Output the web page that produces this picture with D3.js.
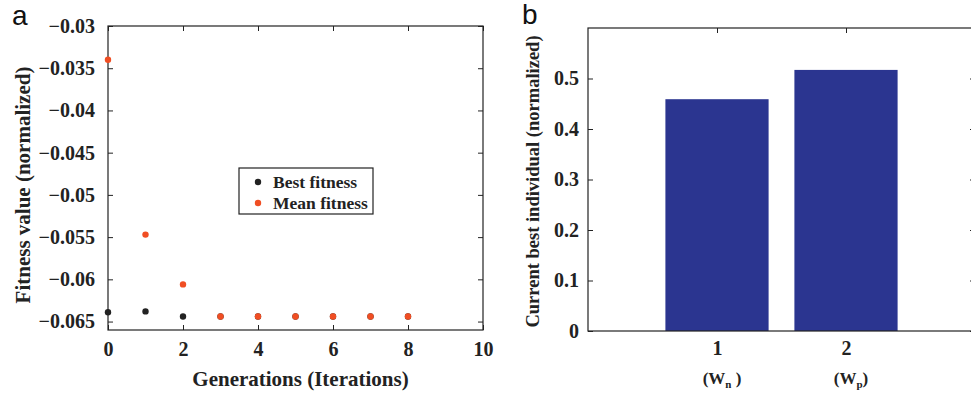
<!DOCTYPE html>
<html>
<head>
<meta charset="utf-8">
<script src="https://cdn.jsdelivr.net/npm/d3@7"></script>
<style>
  html, body { margin: 0; padding: 0; background: #fff; }
  svg { display: block; }
  text { font-family: "Liberation Serif", "Times New Roman", serif; font-weight: bold; fill: #222; }
  .panel { font-family: "Liberation Sans", Arial, sans-serif; font-weight: normal; fill: #111; }
</style>
</head>
<body>
<svg id="chart" width="971" height="397"></svg>
<script>
// Panel a: GA convergence per generation
const generations = [0, 1, 2, 3, 4, 5, 6, 7, 8];
const bestFitness = [-0.0639, -0.0638, -0.0644, -0.0644, -0.0644, -0.0644, -0.0644, -0.0644, -0.0644];
const meanFitness = [-0.0340, -0.0547, -0.0606, -0.0644, -0.0644, -0.0644, -0.0644, -0.0644, -0.0644];
const xTicksA = [0, 2, 4, 6, 8, 10];
const yTicksA = [-0.03, -0.035, -0.04, -0.045, -0.05, -0.055, -0.06, -0.065];

// Panel b: current best individual
const paramIndex = [1, 2];
const paramValues = [0.459, 0.517];
const paramNames = [["n", true], ["p", false]];
const yTicksB = [0, 0.1, 0.2, 0.3, 0.4, 0.5];

const svg = d3.select("#chart");
const axisColor = "#222";
const bestColor = "#222222";
const meanColor = "#f04e23";
const barColor = "#2b3590";

function fmtMinus(v) { return d3.format("")(v).replace("-", "\u2212"); }

// ---------- Panel a ----------
const ax = { left: 108, right: 483, top: 26, bottom: 330 };
const xA = d3.scaleLinear().domain([0, 10]).range([ax.left, ax.right]);
const yA = d3.scaleLinear().domain([-0.066, -0.03]).range([ax.bottom, ax.top]);
const gA = svg.append("g");

gA.append("rect").attr("x", ax.left).attr("y", ax.top)
  .attr("width", ax.right - ax.left).attr("height", ax.bottom - ax.top)
  .attr("fill", "none").attr("stroke", axisColor).attr("stroke-width", 1.2);

const tickStyle = g => {
  g.attr("font-family", null).attr("font-size", null);
  g.select(".domain").remove();
  g.selectAll(".tick line").attr("stroke", axisColor).attr("stroke-width", 1);
  g.selectAll(".tick text").attr("fill", "#222").style("font-size", "20px")
    .style("font-family", "'Liberation Serif', serif").style("font-weight", "bold");
};

gA.append("g").attr("transform", `translate(0,${ax.bottom})`)
  .call(d3.axisBottom(xA).tickValues(xTicksA).tickSize(-5).tickPadding(12).tickFormat(d3.format("d")))
  .call(tickStyle);
gA.append("g").attr("transform", `translate(0,${ax.top})`)
  .call(d3.axisTop(xA).tickValues(xTicksA).tickSize(-5).tickFormat(""))
  .call(tickStyle);
gA.append("g").attr("transform", `translate(${ax.left},0)`)
  .call(d3.axisLeft(yA).tickValues(yTicksA).tickSize(-5).tickPadding(13).tickFormat(fmtMinus))
  .call(tickStyle);
gA.append("g").attr("transform", `translate(${ax.right},0)`)
  .call(d3.axisRight(yA).tickValues(yTicksA).tickSize(-5).tickFormat(""))
  .call(tickStyle);

gA.append("g").selectAll("circle").data(generations).join("circle")
  .attr("cx", (d, i) => xA(generations[i])).attr("cy", (d, i) => yA(bestFitness[i]))
  .attr("r", 3.2).attr("fill", bestColor);
gA.append("g").selectAll("circle").data(generations).join("circle")
  .attr("cx", (d, i) => xA(generations[i])).attr("cy", (d, i) => yA(meanFitness[i]))
  .attr("r", 3.2).attr("fill", meanColor);

// legend
const leg = gA.append("g").attr("transform", "translate(239,168)");
leg.append("rect").attr("width", 134).attr("height", 46)
  .attr("fill", "#fff").attr("stroke", axisColor).attr("stroke-width", 1.2);
[["Best fitness", bestColor], ["Mean fitness", meanColor]].forEach(([label, c], i) => {
  leg.append("circle").attr("cx", 19).attr("cy", 14 + i * 21).attr("r", 3.2).attr("fill", c);
  leg.append("text").attr("x", 34).attr("y", 14 + i * 21).attr("dy", "0.35em")
    .style("font-size", "17.5px").text(label);
});

gA.append("text").attr("x", (ax.left + ax.right) / 2 + 5).attr("y", 386)
  .attr("text-anchor", "middle").style("font-size", "21px").text("Generations (Iterations)");
gA.append("text").attr("transform", `translate(30,${(ax.top + ax.bottom) / 2 + 7}) rotate(-90)`)
  .attr("text-anchor", "middle").style("font-size", "21px").text("Fitness value (normalized)");
svg.append("text").attr("class", "panel").attr("x", 12).attr("y", 25)
  .style("font-size", "28px").text("a");

// ---------- Panel b ----------
const bx = { left: 588, top: 28, bottom: 331 };
const xB = d3.scaleLinear().domain([0, 3]).range([bx.left, bx.left + 387]);
const yB = d3.scaleLinear().domain([0, 0.6]).range([bx.bottom, bx.top]);
const gB = svg.append("g");
const barW = xB(0.8) - xB(0);

gB.append("g").selectAll("rect").data(paramIndex).join("rect")
  .attr("x", (d, i) => xB(paramIndex[i]) - barW / 2)
  .attr("y", (d, i) => yB(paramValues[i]))
  .attr("width", barW)
  .attr("height", (d, i) => yB(0) - yB(paramValues[i]))
  .attr("fill", barColor);

gB.append("rect").attr("x", xB(0)).attr("y", yB(0.6))
  .attr("width", xB(3) - xB(0)).attr("height", yB(0) - yB(0.6))
  .attr("fill", "none").attr("stroke", axisColor).attr("stroke-width", 1.2);

gB.append("g").attr("transform", `translate(0,${bx.bottom})`)
  .call(d3.axisBottom(xB).tickValues(paramIndex).tickSize(0).tickPadding(10).tickFormat(d3.format("d")))
  .call(tickStyle);
gB.append("g").attr("transform", `translate(0,${bx.top})`)
  .call(d3.axisTop(xB).tickValues(paramIndex).tickSize(-5).tickFormat(""))
  .call(tickStyle);
gB.append("g").attr("transform", `translate(${bx.left},0)`)
  .call(d3.axisLeft(yB).tickValues(yTicksB).tickSize(-5).tickPadding(9).tickFormat(d => d === 0 ? "0" : d3.format(".1f")(d)))
  .call(tickStyle);
gB.append("g").attr("transform", `translate(${xB(3)},0)`)
  .call(d3.axisRight(yB).tickValues(yTicksB).tickSize(-5).tickFormat(""))
  .call(tickStyle);

// parameter names under the tick numbers
paramIndex.forEach((p, i) => {
  const t = gB.append("text").attr("x", xB(p) + 5).attr("y", 384)
    .attr("text-anchor", "middle").style("font-size", "17px");
  t.append("tspan").text("(W");
  t.append("tspan").attr("dy", 4).style("font-size", "11px").text(paramNames[i][0]);
  t.append("tspan").attr("dy", -4).text(paramNames[i][1] ? " )" : ")");
});

gB.append("text").attr("transform", `translate(539,${(bx.top + bx.bottom) / 2 + 2}) rotate(-90)`)
  .attr("text-anchor", "middle").style("font-size", "18.5px").text("Current best individual (normalized)");
svg.append("text").attr("class", "panel").attr("x", 522).attr("y", 24)
  .style("font-size", "28px").text("b");
</script>
</body>
</html>
